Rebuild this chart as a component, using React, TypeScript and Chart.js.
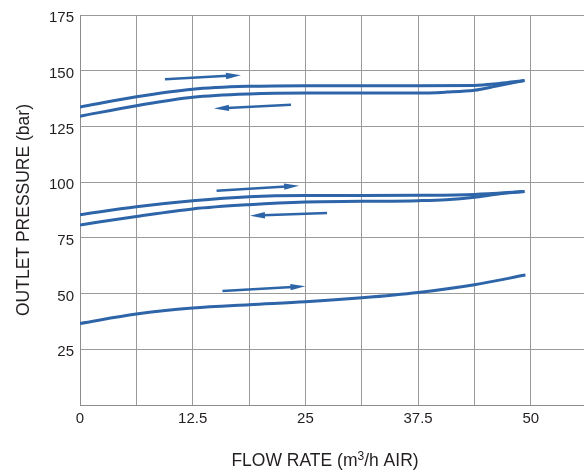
import React, { useEffect, useRef } from "react";
import { Chart, registerables } from "chart.js";

Chart.register(...registerables);

// Axis ticks
const X_TICKS = [0, 6.25, 12.5, 18.75, 25, 31.25, 37.5, 43.75, 50];
const X_LABELS = ["0", "", "12.5", "", "25", "", "37.5", "", "50"];
const Y_TICKS = [0, 25, 50, 75, 100, 125, 150, 175];
const Y_LABELS = ["", "25", "50", "75", "100", "125", "150", "175"];

// Axis titles (x title drawn with a real superscript)
const X_TITLE_PARTS = ["FLOW RATE (m", "3", "/h AIR)"];
const Y_TITLE = "OUTLET PRESSURE (bar)";

// High pressure loop (increasing / decreasing flow)
const HIGH_INC_X = [0, 6.25, 12.5, 18.75, 25, 31.25, 37.5, 43.75, 46.5, 49.3];
const HIGH_INC_Y = [133.7, 138.3, 141.7, 143, 143.3, 143.3, 143.3, 143.4, 144.3, 145.6];
const HIGH_DEC_X = [0, 6.25, 12.5, 18.75, 25, 31.25, 37.5, 40.6, 43.75, 46.2, 49.3];
const HIGH_DEC_Y = [129.6, 134.3, 138.1, 139.6, 140, 140, 140, 140.4, 141.2, 143.1, 145.6];

// Medium pressure loop
const MID_INC_X = [0, 6.25, 12.5, 18.75, 25, 31.25, 37.5, 43.75, 49.3];
const MID_INC_Y = [85.4, 89, 91.7, 93.5, 94, 94, 94.1, 94.5, 95.8];
const MID_DEC_X = [0, 6.25, 12.5, 18.75, 25, 31.25, 37.5, 40.6, 43.75, 46.2, 49.3];
const MID_DEC_Y = [80.8, 84.6, 88, 89.9, 91.1, 91.4, 91.7, 92.1, 93.2, 94.6, 95.8];

// Low pressure curve
const LOW_X = [0, 6.25, 12.5, 18.75, 25, 31.25, 37.5, 43.75, 49.4];
const LOW_Y = [36.6, 40.8, 43.5, 45, 46.3, 48.1, 50.5, 54, 58.3];

// Direction arrows (tail -> tip), in data units
const ARROW_TAIL_X = [9.42, 23.4, 15.15, 27.4, 15.8];
const ARROW_TAIL_Y = [146.2, 134.7, 96.1, 86.1, 51.1];
const ARROW_TIP_X = [17.85, 14.86, 24.3, 18.85, 25.0];
const ARROW_TIP_Y = [148.0, 133.0, 98.4, 84.9, 53.3];

const BLUE = "#2d65a8";
const TEXT = "#231f20";
const FONT = "'Liberation Sans', Arial, Helvetica, sans-serif";

const zip = (xs: number[], ys: number[]) => xs.map((x, i) => ({ x, y: ys[i] }));

const arrowPlugin = {
  id: "flowArrows",
  afterDatasetsDraw(chart: any) {
    const { ctx } = chart;
    const xs = chart.scales.x;
    const ys = chart.scales.y;
    ctx.save();
    ctx.strokeStyle = BLUE;
    ctx.fillStyle = BLUE;
    for (let i = 0; i < ARROW_TAIL_X.length; i++) {
      const x0 = xs.getPixelForValue(ARROW_TAIL_X[i]);
      const y0 = ys.getPixelForValue(ARROW_TAIL_Y[i]);
      const x1 = xs.getPixelForValue(ARROW_TIP_X[i]);
      const y1 = ys.getPixelForValue(ARROW_TIP_Y[i]);
      const a = Math.atan2(y1 - y0, x1 - x0);
      const c = Math.cos(a);
      const s = Math.sin(a);
      const L = 15;
      const W = 3.2;
      const bx = x1 - L * c;
      const by = y1 - L * s;
      ctx.lineWidth = 2.5;
      ctx.beginPath();
      ctx.moveTo(x0, y0);
      ctx.lineTo(bx + 2 * c, by + 2 * s);
      ctx.stroke();
      ctx.beginPath();
      ctx.moveTo(x1, y1);
      ctx.lineTo(bx - s * W, by + c * W);
      ctx.lineTo(bx + s * W, by - c * W);
      ctx.closePath();
      ctx.fill();
    }
    ctx.restore();
  },
};

const xTitlePlugin = {
  id: "xTitleSup",
  afterDraw(chart: any) {
    const { ctx, chartArea } = chart;
    const main = `17.5px ${FONT}`;
    const sup = `12px ${FONT}`;
    ctx.save();
    ctx.fillStyle = TEXT;
    ctx.textBaseline = "alphabetic";
    ctx.textAlign = "left";
    ctx.font = main;
    const w0 = ctx.measureText(X_TITLE_PARTS[0]).width;
    const w2 = ctx.measureText(X_TITLE_PARTS[2]).width;
    ctx.font = sup;
    const w1 = ctx.measureText(X_TITLE_PARTS[1]).width;
    const total = w0 + w1 + w2;
    const cx = (chartArea.left + chartArea.right) / 2 - 7;
    const base = chartArea.bottom + 61;
    let x = cx - total / 2;
    ctx.font = main;
    ctx.fillText(X_TITLE_PARTS[0], x, base);
    x += w0;
    ctx.font = sup;
    ctx.fillText(X_TITLE_PARTS[1], x, base - 6);
    x += w1;
    ctx.font = main;
    ctx.fillText(X_TITLE_PARTS[2], x, base);
    ctx.restore();
  },
};

export default function App() {
  const ref = useRef<HTMLCanvasElement | null>(null);

  useEffect(() => {
    if (!ref.current) return;
    const line = (xs: number[], ys: number[]) => ({
      data: zip(xs, ys),
      borderColor: BLUE,
      backgroundColor: BLUE,
      borderWidth: 3,
      pointRadius: 0,
      fill: false,
      cubicInterpolationMode: "monotone" as const,
    });
    const chart = new Chart(ref.current, {
      type: "line",
      data: {
        datasets: [
          line(HIGH_INC_X, HIGH_INC_Y),
          line(HIGH_DEC_X, HIGH_DEC_Y),
          line(MID_INC_X, MID_INC_Y),
          line(MID_DEC_X, MID_DEC_Y),
          line(LOW_X, LOW_Y),
        ],
      },
      options: {
        responsive: false,
        animation: false,
        layout: { padding: { top: 12, right: 0, left: 0, bottom: 0 } },
        plugins: { legend: { display: false }, tooltip: { enabled: false } },
        scales: {
          x: {
            type: "linear",
            min: 0,
            max: 55.9,
            afterBuildTicks: (s: any) => {
              s.ticks = X_TICKS.map((v) => ({ value: v }));
            },
            afterFit: (s: any) => {
              s.height = 66;
            },
            ticks: {
              autoSkip: false,
              maxRotation: 0,
              padding: 5,
              color: TEXT,
              font: { family: FONT, size: 15 },
              callback: (_v: any, i: number) => X_LABELS[i],
            },
            grid: { color: "#9a9a9a", lineWidth: 1, drawTicks: false },
            border: { color: "#8c8c8c", width: 1 },
            title: { display: false },
          },
          y: {
            type: "linear",
            min: 0,
            max: 175,
            afterBuildTicks: (s: any) => {
              s.ticks = Y_TICKS.map((v) => ({ value: v }));
            },
            afterFit: (s: any) => {
              s.width = 80;
            },
            ticks: {
              autoSkip: false,
              padding: 6,
              labelOffset: 3,
              color: TEXT,
              font: { family: FONT, size: 15 },
              callback: (_v: any, i: number) => Y_LABELS[i],
            },
            grid: { color: "#9a9a9a", lineWidth: 1, drawTicks: false },
            border: { color: "#8c8c8c", width: 1 },
            title: {
              display: true,
              text: Y_TITLE,
              color: TEXT,
              font: { family: FONT, size: 17.5 },
              padding: { top: 14, bottom: 0 },
            },
          },
        },
      },
      plugins: [arrowPlugin, xTitlePlugin],
    });
    return () => chart.destroy();
  }, []);

  return (
    <div style={{ position: "absolute", left: 0, top: 0, width: 584, height: 471, background: "#fff" }}>
      <canvas ref={ref} width={584} height={471} style={{ display: "block" }} />
    </div>
  );
}
